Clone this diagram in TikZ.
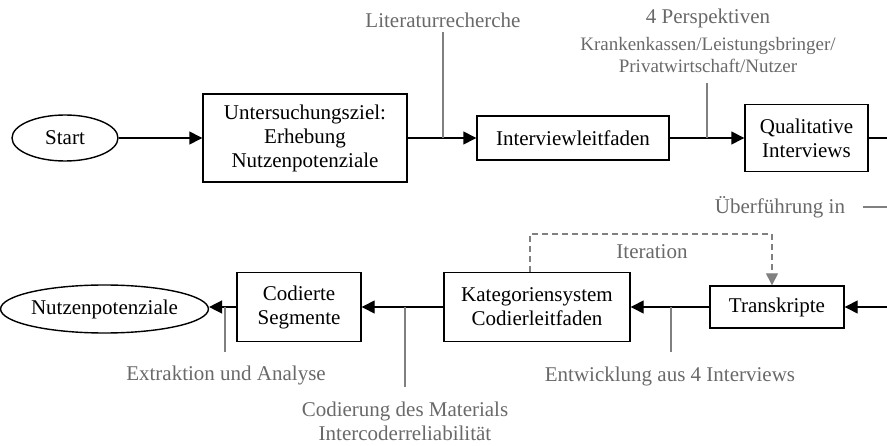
\documentclass[tikz,border=0pt]{standalone}
\usepackage{fontspec}
\setmainfont{Liberation Serif}
\usetikzlibrary{arrows.meta,shapes.geometric}
\definecolor{labc}{RGB}{105,105,105}
\definecolor{linc}{RGB}{128,128,128}
\begin{document}
\begin{tikzpicture}[x=1pt,y=-1pt,
  every node/.style={font=\fontsize{21}{24}\selectfont},
  box/.style={draw,line width=1.4pt,inner sep=0pt,align=center,rectangle},
  oval/.style={draw,line width=1.4pt,inner sep=0pt,align=center,ellipse},
  conn/.style={line width=1.4pt,-{Triangle[length=13pt,width=13pt]}},
  plain/.style={line width=1.4pt},
  glin/.style={draw=linc,line width=1.4pt},
  lab/.style={text=labc,align=center,inner sep=0pt},
  dashconn/.style={draw=linc,line width=1.4pt,dashed,dash pattern=on 6pt off 4pt,-{Triangle[length=12pt,width=12pt]}}]
\useasboundingbox (0,0) rectangle (887,446);
% nodes
\node[oval,minimum width=106pt,minimum height=46pt] (start) at (65,138) {Start};
\node[box,minimum width=204pt,minimum height=88pt] (ziel) at (305,138) {Untersuchungsziel:\\Erhebung\\Nutzenpotenziale};
\node[box,minimum width=192pt,minimum height=44pt] (leit) at (573,138) {Interviewleitfaden};
\node[box,minimum width=123pt,minimum height=67pt] (qual) at (806.5,138) {Qualitative\\Interviews};
\node[box,minimum width=134pt,minimum height=42pt] (trans) at (777,307) {Transkripte};
\node[box,minimum width=186pt,minimum height=69pt] (kat) at (537,307) {Kategoriensystem\\Codierleitfaden};
\node[box,minimum width=124pt,minimum height=69pt] (cod) at (299,307) {Codierte\\Segmente};
\node[oval,minimum width=189pt,minimum height=48pt] (nutz) at (104.5,309) {Nutzenpotenziale};
% edge coordinates
\coordinate (qr) at (887,138);
\coordinate (tr) at (887,307);
% main connectors
\draw[conn] (start.east) -- (ziel.west);
\draw[conn] (ziel.east) -- (leit.west);
\draw[conn] (leit.east) -- (qual.west);
\draw[plain] (qual.east) -- (qr);
\draw[conn] (tr) -- (trans.east);
\draw[conn] (trans.west) -- (kat.east);
\draw[conn] (kat.west) -- (cod.east);
\draw[conn] (cod.west) -- (nutz.east |- 307,307);
% iteration
\coordinate (itA) at (530,234);
\coordinate (itB) at (772,234);
\draw[dashconn] (kat.north -| itA) -- (itA) -- (itB) -- (trans.north -| itB);
\node[lab] (iter) at (652,252) {Iteration};
% labels and gray ticks
\node[lab] (litlab) at (443,20) {Literaturrecherche};
\coordinate (litT) at (443,32);
\coordinate (litB) at (443,138);
\draw[glin] (litT) -- (litB);

\node[lab] (persp) at (708,18) {4 Perspektiven};
\node[lab,font=\fontsize{19}{22}\selectfont] (persp2) at (708,55) {Krankenkassen/Leistungsbringer/\\Privatwirtschaft/Nutzer};
\coordinate (perT) at (707,83);
\coordinate (perB) at (707,138);
\draw[glin] (perT) -- (perB);

\node[lab] (ueber) at (780,207) {Überführung in};
\coordinate (ueA) at (863,207);
\coordinate (ueB) at (887,207);
\draw[glin] (ueA) -- (ueB);

\coordinate (entT) at (671,307);
\coordinate (entB) at (671,352);
\draw[glin] (entT) -- (entB);
\node[lab] (entlab) at (670,376) {Entwicklung aus 4 Interviews};

\coordinate (codT) at (405,307);
\coordinate (codB) at (405,387);
\draw[glin] (codT) -- (codB);
\node[lab] (codlab) at (405,421) {Codierung des Materials\\Intercoderreliabilität};

\coordinate (extT) at (225,307);
\coordinate (extB) at (225,352);
\draw[glin] (extT) -- (extB);
\node[lab] (extlab) at (226,375) {Extraktion und Analyse};
\end{tikzpicture}
\end{document}
